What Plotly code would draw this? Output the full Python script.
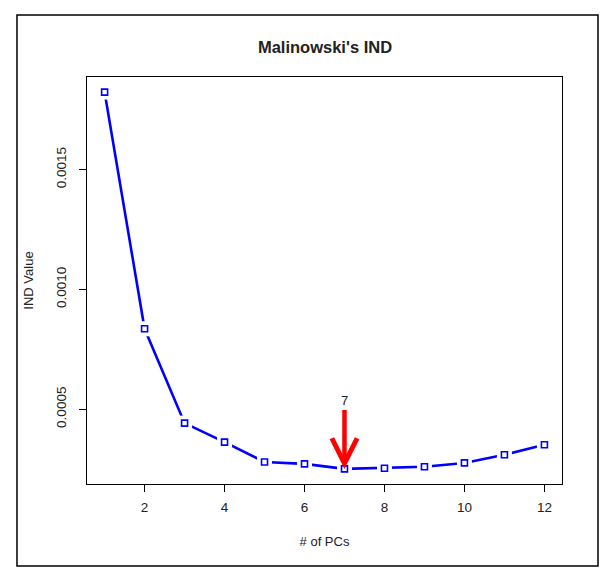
import plotly.graph_objects as go

# ── Data ──────────────────────────────────────────────────────────────────────
n_pcs = [1, 2, 3, 4, 5, 6, 7, 8, 9, 10, 11, 12]
ind_values = [0.001824, 0.000836, 0.000442, 0.000363, 0.000280, 0.000272,
              0.000251, 0.000254, 0.000260, 0.000276, 0.000310, 0.000352]
best_pc = 7
label_y = 0.000535

x_ticks = [2, 4, 6, 8, 10, 12]
y_ticks = [0.0005, 0.0010, 0.0015]
y_tick_text = ["0.0005", "0.0010", "0.0015"]

FONT = "Liberation Sans, Arial, sans-serif"
INK = "#222222"

# page body has an 8px margin, so the figure is a bit smaller than the window
W, H = 605, 565
M_L, M_R, M_T, M_B = 79, 51, 69, 89

fig = go.Figure()

# line
fig.add_trace(go.Scatter(
    x=n_pcs, y=ind_values, mode="lines",
    line=dict(color="#0000FF", width=2.6),
    hoverinfo="skip",
))
# white mask behind points -> R type="b" gaps
fig.add_trace(go.Scatter(
    x=n_pcs, y=ind_values, mode="markers",
    marker=dict(symbol="square", size=15, color="white", line=dict(width=0)),
    hoverinfo="skip",
))
# points
fig.add_trace(go.Scatter(
    x=n_pcs, y=ind_values, mode="markers",
    marker=dict(symbol="square-open", size=6, color="#0000FF", line=dict(width=1.6)),
    hovertemplate="PC %{x}<br>%{y:.6f}<extra></extra>",
))

# red arrow pointing at the chosen number of PCs (open V head like R's arrows())
fig.add_annotation(
    x=best_pc, y=ind_values[best_pc - 1],
    ax=best_pc, ay=label_y,
    xref="x", yref="y", axref="x", ayref="y",
    text=str(best_pc),
    showarrow=True, arrowhead=5, arrowsize=1.1, arrowwidth=4.5,
    arrowcolor="#FF0000", standoff=0,
    font=dict(family=FONT, size=13, color=INK),
)

# outer frame
fig.add_shape(
    type="rect", xref="paper", yref="paper",
    x0=-0.1474, x1=1.0758, y0=-0.2015, y1=1.1523,
    line=dict(color="black", width=1.5), fillcolor="rgba(0,0,0,0)",
)

fig.update_xaxes(
    range=[0.56, 12.44], tickvals=x_ticks,
    showline=True, linecolor="black", linewidth=1.2, mirror=True,
    ticks="outside", ticklen=7, tickcolor="black",
    ticklabelstandoff=4,
    showgrid=False, zeroline=False,
    tickfont=dict(family=FONT, size=13.5, color=INK),
    title=dict(text="# of PCs", font=dict(family=FONT, size=13, color=INK), standoff=22),
)
fig.update_yaxes(
    range=[0.000188, 0.001887], tickvals=y_ticks, ticktext=y_tick_text,
    tickangle=-90,
    showline=True, linecolor="black", linewidth=1.2, mirror=True,
    ticks="outside", ticklen=7, tickcolor="black",
    ticklabelstandoff=8,
    showgrid=False, zeroline=False,
    tickfont=dict(family=FONT, size=13.5, color=INK),
    title=dict(text="IND Value", font=dict(family=FONT, size=13, color=INK), standoff=16),
)

fig.update_layout(
    width=W, height=H,
    margin=dict(l=M_L, r=M_R, t=M_T, b=M_B),
    plot_bgcolor="white", paper_bgcolor="white",
    showlegend=False,
    title=dict(
        text="<b>Malinowski's IND</b>",
        x=317 / W, xanchor="center",
        y=1 - 39 / H, yanchor="middle",
        font=dict(family=FONT, size=16.5, color=INK),
    ),
)

fig.write_html("out.html", config={"displayModeBar": False})
